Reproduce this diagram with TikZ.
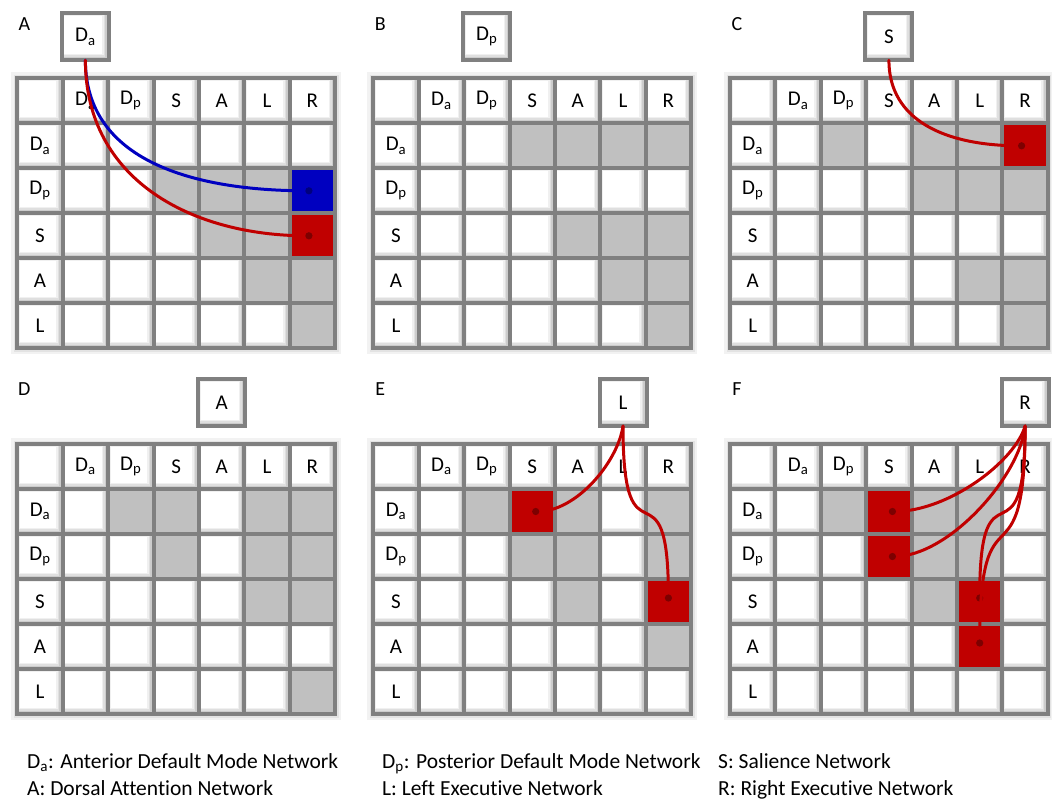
\documentclass[tikz,border=0pt]{standalone}
\usepackage{fontspec}
\setmainfont{Carlito}[Ligatures=NoCommon]
\usetikzlibrary{arrows.meta}
\definecolor{linegray}{HTML}{808080}
\definecolor{cellgray}{HTML}{C0C0C0}
\definecolor{cred}{HTML}{C00000}
\definecolor{cblue}{HTML}{0000C0}
\def\cw{45.4}
\def\ch{45}
\tikzset{
  wshade/.style={path picture={
    \fill[gray!40] (path picture bounding box.north west) rectangle (path picture bounding box.south east);
    \fill[gray!25] ([shift={(1.5pt,-1.5pt)}]path picture bounding box.north west) rectangle ([shift={(-3.5pt,3.5pt)}]path picture bounding box.south east);
    \fill[gray!12] ([shift={(2pt,-2pt)}]path picture bounding box.north west) rectangle ([shift={(-5pt,5pt)}]path picture bounding box.south east);
    \fill[white] ([shift={(2.5pt,-2.5pt)}]path picture bounding box.north west) rectangle ([shift={(-6.5pt,6.5pt)}]path picture bounding box.south east);
  }},
  cellbase/.style={rectangle, minimum width=\cw pt, minimum height=\ch pt, inner sep=0pt, outer sep=0pt,
    font=\fontsize{21}{24}\selectfont},
  cellw/.style={cellbase, wshade},
  cellg/.style={cellbase, fill=cellgray},
  cellr/.style={cellbase, fill=cred},
  cellb/.style={cellbase, fill=cblue},
  gridline/.style={draw=linegray, line width=4pt, line cap=rect},
  boxnode/.style={rectangle, minimum width=47pt, minimum height=47pt, inner sep=0pt, outer sep=0pt,
    draw=linegray, line width=4pt, wshade, font=\fontsize{21}{24}\selectfont},
  panellabel/.style={font=\fontsize{20}{24}\selectfont, inner sep=0pt},
  legend/.style={font=\fontsize{21.5}{24}\selectfont, inner sep=0pt, anchor=base west},
  conn/.style={line width=3pt, line cap=round},
  redconn/.style={conn, draw=cred, -{Circle[length=7pt,color=cred!65!black]}},
  blueconn/.style={conn, draw=cblue, -{Circle[length=7pt,color=cblue!65!black]}},
}
\newcommand\drawpanel[6]{%
\begin{scope}[shift={(#2,#3)}]
  \fill[gray!10] (-6,-6) rectangle ({7*\cw+6},{6*\ch+6});
  \fill[gray!22] (-3.5,-3.5) rectangle ({7*\cw+3.5},{6*\ch+3.5});
  \node[cellw] (#1-0-0) at ({0.5*\cw},{0.5*\ch}) {};
  \foreach \lab [count=\cc] in {D\textsubscript{a},D\textsubscript{p},S,A,L,R}
    {\node[cellw] (#1-0-\cc) at ({(\cc+0.5)*\cw},{0.5*\ch}) {\lab};}
  \foreach \lab [count=\rr] in {D\textsubscript{a},D\textsubscript{p},S,A,L}
    {\node[cellw] (#1-\rr-0) at ({0.5*\cw},{(\rr+0.5)*\ch}) {\lab};}
  \foreach \row [count=\rr] in {#6} {
    \foreach \t [count=\cc] in \row {
      \edef\tmpcell{\noexpand\node[cell\t] (#1-\rr-\cc) at ({(\cc+0.5)*\cw},{(\rr+0.5)*\ch}) {};}\tmpcell
    }
  }
  \foreach \i in {0,...,7} {\draw[gridline] ({\i*\cw},0) -- ({\i*\cw},{6*\ch});}
  \foreach \j in {0,...,6} {\draw[gridline] (0,{\j*\ch}) -- ({7*\cw},{\j*\ch});}
  \node[boxnode] (box#1) at ({(#4+0.5)*\cw},-41.5) {#5};
  \node[panellabel] (lab#1) at (7,-54.5) {#1};
\end{scope}}
\begin{document}
\begin{tikzpicture}[x=1pt,y=-1pt]
\useasboundingbox (0,0) rectangle (1052,803);
\fill[white] (0,0) rectangle (1052,803);
\drawpanel{A}{17.3}{78.3}{1}{D\textsubscript{a}}{{w,w,w,w,w,w},{w,w,g,g,g,b},{w,w,w,g,g,r},{w,w,w,w,g,g},{w,w,w,w,w,g}}
\drawpanel{B}{373.3}{78.3}{2}{D\textsubscript{p}}{{w,w,g,g,g,g},{w,w,w,w,w,w},{w,w,w,g,g,g},{w,w,w,w,g,g},{w,w,w,w,w,g}}
\drawpanel{C}{730}{78.3}{3}{S}{{w,g,w,g,g,r},{w,w,w,g,g,g},{w,w,w,w,w,w},{w,w,w,w,g,g},{w,w,w,w,w,g}}
\drawpanel{D}{17.3}{444}{4}{A}{{w,g,g,w,g,g},{w,w,g,w,g,g},{w,w,w,w,g,g},{w,w,w,w,w,w},{w,w,w,w,w,g}}
\drawpanel{E}{373.3}{444}{5}{L}{{w,g,r,g,w,g},{w,w,g,g,w,g},{w,w,w,g,w,r},{w,w,w,w,w,g},{w,w,w,w,w,w}}
\drawpanel{F}{730}{444}{6}{R}{{w,g,r,g,g,w},{w,w,r,g,g,w},{w,w,w,g,r,w},{w,w,w,w,r,w},{w,w,w,w,w,w}}
% connectors
\draw[blueconn] (boxA.south) .. controls +(0,100) and +(-120,0) .. (A-2-6.center);
\draw[redconn] (boxA.south) .. controls +(0,120) and +(-120,0) .. (A-3-6.center);
\draw[redconn] (boxC.south) .. controls +(0,60) and +(-80,0) .. (C-1-6.center);
\draw[redconn] (boxE.south) .. controls +(-5,35) and +(45,0) .. (E-1-3.center);
\draw[redconn] (boxE.south) .. controls +(0,150) and +(0,-150) .. (E-3-6.center);
\draw[redconn] (boxF.south) .. controls +(-10,35) and +(60,0) .. (F-1-3.center);
\draw[redconn] (boxF.south) .. controls +(-5,50) and +(60,0) .. (F-2-3.center);
\draw[redconn] (boxF.south) .. controls +(0,150) and +(0,-150) .. (F-3-5.center);
\draw[redconn] (boxF.south) .. controls +(0,170) and +(0,-170) .. (F-4-5.center);
% legend
\node[legend] (leg1) at (27,768) {D\textsubscript{a}: Anterior Default Mode Network};
\node[legend] (leg2) at (382,768) {D\textsubscript{p}: Posterior Default Mode Network};
\node[legend] (leg3) at (718,768) {S: Salience Network};
\node[legend] (leg4) at (27,795) {A: Dorsal Attention Network};
\node[legend] (leg5) at (382,795) {L: Left Executive Network};
\node[legend] (leg6) at (718,795) {R: Right Executive Network};
\end{tikzpicture}
\end{document}
